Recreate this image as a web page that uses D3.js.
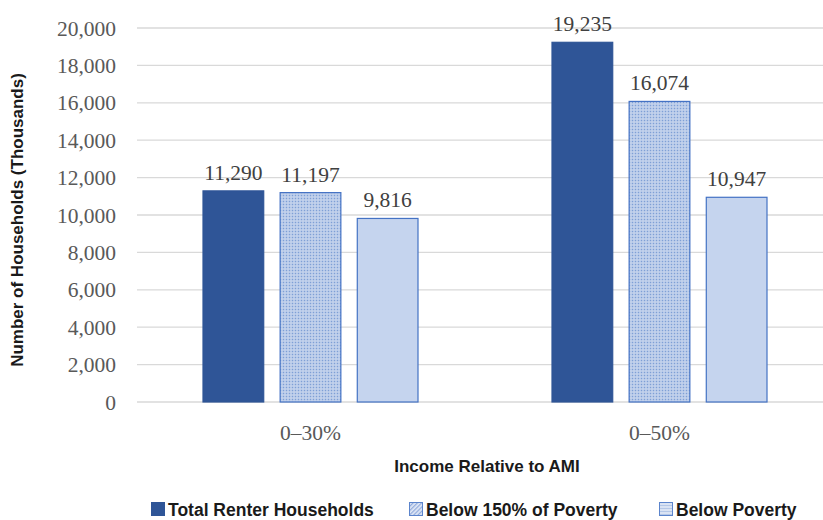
<!DOCTYPE html>
<html>
<head>
<meta charset="utf-8">
<script src="https://cdn.jsdelivr.net/npm/d3@7"></script>
<style>
  body { margin: 0; background: #fff; }
  svg { display: block; }
</style>
</head>
<body>
<svg id="chart" width="823" height="520"></svg>
<script>
const categories = ["0–30%", "0–50%"];
const seriesNames = ["Total Renter Households", "Below 150% of Poverty", "Below Poverty"];
const totalRenter = [11290, 19235];
const below150 = [11197, 16074];
const belowPoverty = [9816, 10947];
const yTicks = [0, 2000, 4000, 6000, 8000, 10000, 12000, 14000, 16000, 18000, 20000];

const width = 823, height = 520;
const margin = { top: 28, right: 0, bottom: 118, left: 137 };
const serif = "Liberation Serif, Times New Roman, serif";
const sans = "Liberation Sans, Arial, sans-serif";

const svg = d3.select("#chart");

// patterns for the lighter series
const defs = svg.append("defs");
const dots = defs.append("pattern")
    .attr("id", "dots").attr("patternUnits", "userSpaceOnUse")
    .attr("width", 3).attr("height", 3);
dots.append("rect").attr("width", 3).attr("height", 3).attr("fill", "#b4c7e7");
dots.append("rect").attr("width", 1).attr("height", 1).attr("fill", "#7f9fd6");
dots.append("rect").attr("x", 1.5).attr("y", 1.5).attr("width", 1).attr("height", 1).attr("fill", "#e8eef8");

const diag = defs.append("pattern")
    .attr("id", "diag").attr("patternUnits", "userSpaceOnUse")
    .attr("width", 3).attr("height", 3).attr("patternTransform", "rotate(45)");
diag.append("rect").attr("width", 3).attr("height", 3).attr("fill", "#dfe7f5");
diag.append("rect").attr("width", 1.2).attr("height", 3).attr("fill", "#8faadc");

const hlines = defs.append("pattern")
    .attr("id", "hlines").attr("patternUnits", "userSpaceOnUse")
    .attr("width", 3).attr("height", 3);
hlines.append("rect").attr("width", 3).attr("height", 3).attr("fill", "#dae3f3");
hlines.append("rect").attr("width", 3).attr("height", 1).attr("fill", "#b4c7e7");

const series = [
    { name: seriesNames[0], values: totalRenter, fill: "#2f5597", stroke: "#2f5597", legendFill: "#2f5597" },
    { name: seriesNames[1], values: below150, fill: "url(#dots)", stroke: "#4472c4", legendFill: "url(#diag)" },
    { name: seriesNames[2], values: belowPoverty, fill: "#c5d4ee", stroke: "#4472c4", legendFill: "url(#hlines)" }
];

const x0 = d3.scaleBand()
    .domain(categories)
    .range([margin.left - 1, 834])
    .paddingInner(0)
    .paddingOuter(0);

const x1 = d3.scaleBand()
    .domain(seriesNames)
    .range([x0.bandwidth() / 2 - 108, x0.bandwidth() / 2 + 108])
    .paddingInner(0.2);

const y = d3.scaleLinear()
    .domain([0, 20000])
    .range([height - margin.bottom, margin.top]);

// gridlines
svg.append("g")
    .selectAll("line")
    .data(yTicks)
    .join("line")
    .attr("x1", margin.left)
    .attr("x2", width)
    .attr("y1", d => y(d))
    .attr("y2", d => y(d))
    .attr("stroke", "#d9d9d9")
    .attr("stroke-width", 1.3);

// y axis labels
svg.append("g")
    .selectAll("text")
    .data(yTicks)
    .join("text")
    .attr("x", 116)
    .attr("y", d => y(d))
    .attr("dy", "0.35em")
    .attr("text-anchor", "end")
    .attr("font-family", serif)
    .attr("font-size", 21.5)
    .attr("fill", "#595959")
    .text(d => d3.format(",")(d));

// bars
const groups = svg.append("g")
    .selectAll("g")
    .data(categories)
    .join("g")
    .attr("transform", d => `translate(${x0(d)},0)`);

groups.selectAll("rect")
    .data((c, i) => series.map(s => ({ s, v: s.values[i] })))
    .join("rect")
    .attr("x", d => x1(d.s.name) + 0.5)
    .attr("width", x1.bandwidth() - 1)
    .attr("y", d => y(d.v))
    .attr("height", d => y(0) - y(d.v))
    .attr("fill", d => d.s.fill)
    .attr("stroke", d => d.s.stroke)
    .attr("stroke-width", 1.2);

// data labels
groups.selectAll("text")
    .data((c, i) => series.map(s => ({ s, v: s.values[i] })))
    .join("text")
    .attr("x", d => x1(d.s.name) + x1.bandwidth() / 2)
    .attr("y", d => y(d.v) - 11)
    .attr("text-anchor", "middle")
    .attr("font-family", serif)
    .attr("font-size", 21.5)
    .attr("fill", "#404040")
    .text(d => d3.format(",")(d.v));

// category labels
svg.append("g")
    .selectAll("text")
    .data(categories)
    .join("text")
    .attr("x", d => x0(d) + x0.bandwidth() / 2)
    .attr("y", 440)
    .attr("text-anchor", "middle")
    .attr("font-family", serif)
    .attr("font-size", 21.5)
    .attr("fill", "#595959")
    .text(d => d);

// axis titles
svg.append("text")
    .attr("x", 487)
    .attr("y", 472)
    .attr("text-anchor", "middle")
    .attr("font-family", sans)
    .attr("font-weight", "bold")
    .attr("font-size", 17)
    .attr("fill", "#1a1a1a")
    .text("Income Relative to AMI");

svg.append("text")
    .attr("transform", "translate(23,220) rotate(-90)")
    .attr("text-anchor", "middle")
    .attr("font-family", sans)
    .attr("font-weight", "bold")
    .attr("font-size", 17)
    .attr("fill", "#1a1a1a")
    .text("Number of Households (Thousands)");

// legend
const legendX = [151, 409, 659];
const legend = svg.append("g")
    .selectAll("g")
    .data(series)
    .join("g")
    .attr("transform", (d, i) => `translate(${legendX[i]},502)`);

legend.append("rect")
    .attr("x", 0.5).attr("y", 0.5)
    .attr("width", 13).attr("height", 13)
    .attr("fill", d => d.legendFill)
    .attr("stroke", d => d.stroke === "#2f5597" ? "#2f5597" : "#5b84cc")
    .attr("stroke-width", 1);

legend.append("text")
    .attr("x", 17)
    .attr("y", 13.5)
    .attr("font-family", sans)
    .attr("font-weight", "bold")
    .attr("font-size", 17.5)
    .attr("fill", "#1a1a1a")
    .text(d => d.name);
</script>
</body>
</html>
